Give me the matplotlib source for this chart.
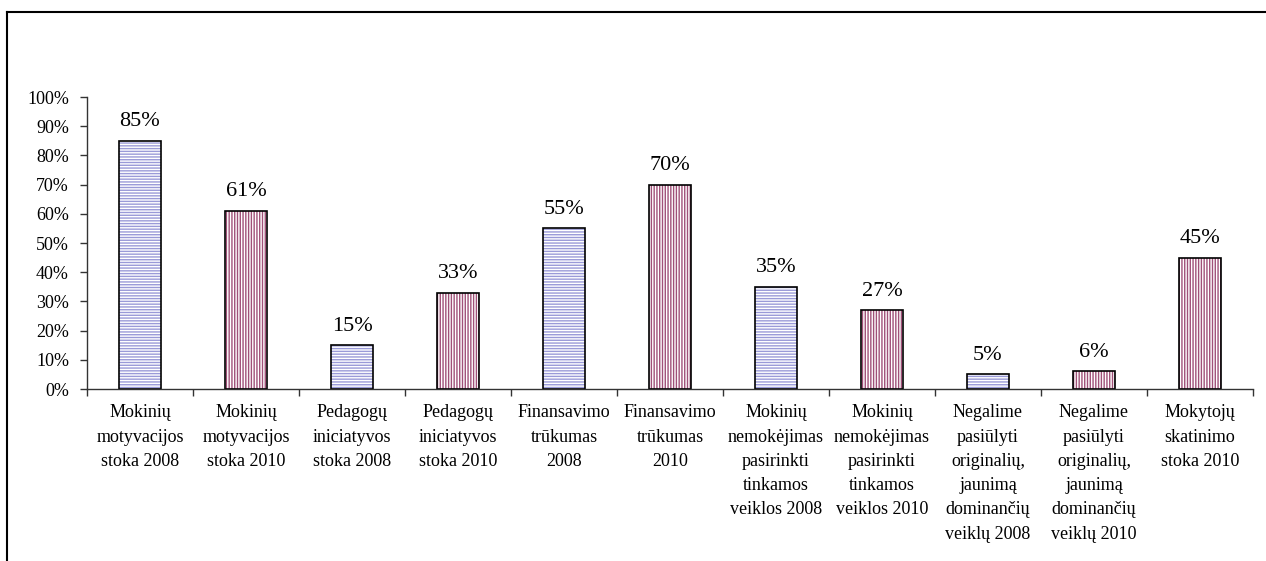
import matplotlib
matplotlib.use("Agg")
import matplotlib.pyplot as plt
import numpy as np
from matplotlib.lines import Line2D

plt.rcParams['font.family'] = ['Liberation Serif', 'DejaVu Serif']
plt.rcParams['hatch.linewidth'] = 1.0

categories = [
    "Mokinių\nmotyvacijos\nstoka 2008",
    "Mokinių\nmotyvacijos\nstoka 2010",
    "Pedagogų\niniciatyvos\nstoka 2008",
    "Pedagogų\niniciatyvos\nstoka 2010",
    "Finansavimo\ntrūkumas\n2008",
    "Finansavimo\ntrūkumas\n2010",
    "Mokinių\nnemokėjimas\npasirinkti\ntinkamos\nveiklos 2008",
    "Mokinių\nnemokėjimas\npasirinkti\ntinkamos\nveiklos 2010",
    "Negalime\npasiūlyti\noriginalių,\njaunimą\ndominančių\nveiklų 2008",
    "Negalime\npasiūlyti\noriginalių,\njaunimą\ndominančių\nveiklų 2010",
    "Mokytojų\nskatinimo\nstoka 2010",
]
values = [85, 61, 15, 33, 55, 70, 35, 27, 5, 6, 45]
years = [2008, 2010, 2008, 2010, 2008, 2010, 2008, 2010, 2008, 2010, 2010]

blue = "#9a9ad8"
purple = "#a05078"

fig = plt.figure(figsize=(12.66, 5.61), dpi=100)
ax = fig.add_axes([87 / 1266, 1 - 389 / 561, (1253 - 87) / 1266, (389 - 97) / 561])

x = np.arange(len(values))
w = 0.4
for xi, v, yr in zip(x, values, years):
    if yr == 2008:
        ax.bar(xi, v, w, color="white", edgecolor=blue, hatch="------", linewidth=0)
    else:
        ax.bar(xi, v, w, color="white", edgecolor=purple, hatch="||||||", linewidth=0)
    ax.bar(xi, v, w, fill=False, edgecolor="black", linewidth=1.2)
    ax.text(xi, v + 3.3, f"{v}%", ha="center", va="bottom", fontsize=16)

ax.set_xlim(-0.5, len(values) - 0.5)
ax.set_ylim(0, 100)
ax.set_yticks(np.arange(0, 101, 10))
ax.set_yticklabels([f"{t}%" for t in range(0, 101, 10)], fontsize=13)
ax.set_xticks(x)
ax.set_xticklabels(categories, fontsize=13, linespacing=1.56, va="top")
ax.tick_params(axis="x", which="major", length=0, pad=11)
ax.set_xticks(np.arange(-0.5, len(values), 1), minor=True)
ax.tick_params(axis="x", which="minor", length=5, direction="out", width=1, color="#333333")
ax.tick_params(axis="y", length=5, width=1, color="#333333", pad=8)

for s in ["top", "right"]:
    ax.spines[s].set_visible(False)
for s in ["left", "bottom"]:
    ax.spines[s].set_color("#333333")
    ax.spines[s].set_linewidth(1)

# outer chart frame
fig.add_artist(Line2D([7 / 1266, 7 / 1266], [0, 1 - 12 / 561], transform=fig.transFigure, color="black", lw=1.5))
fig.add_artist(Line2D([7 / 1266, 1], [1 - 12 / 561, 1 - 12 / 561], transform=fig.transFigure, color="black", lw=1.5))

fig.savefig("out.png", dpi=100)
